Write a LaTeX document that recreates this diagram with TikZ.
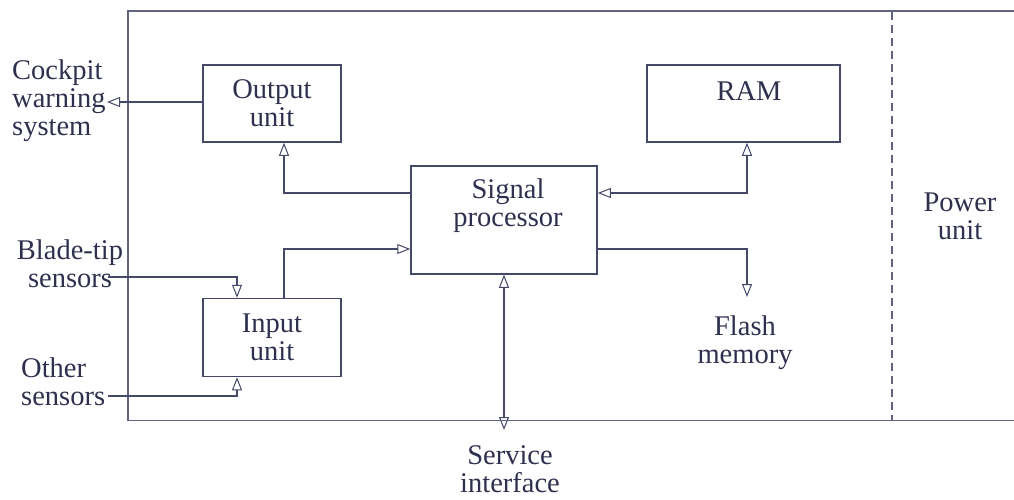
\documentclass[tikz,border=0pt]{standalone}
\usepackage{fontspec}
\setmainfont{Liberation Serif}
\usetikzlibrary{arrows.meta}
\definecolor{linec}{RGB}{70,72,104}
\definecolor{textc}{RGB}{46,48,78}
\begin{document}
\begin{tikzpicture}[x=1pt,y=-1pt,
  every node/.style={text=textc,font=\fontsize{28.5}{28}\selectfont},
  unitbox/.style={draw=linec,line width=1.5pt,inner sep=0pt,rectangle},
  lbl/.style={inner sep=0pt,align=center},
  conn/.style={draw=linec,line width=1.5pt},
  tip/.style={-{Triangle[open,length=13pt,width=10pt,line width=1pt]}},
  bothtip/.style={{Triangle[open,length=13pt,width=10pt,line width=1pt]}-{Triangle[open,length=13pt,width=10pt,line width=1pt]}}]
\useasboundingbox (0,0) rectangle (1014,500);
% outer frame
\draw[linec!85,line width=1.6pt] (1014,11) -- (128,11) -- (128,420.5) -- (1014,420.5);
\draw[linec!85,line width=1.3pt,dash pattern=on 8pt off 5pt] (892,12) -- (892,420);
% boxes
\node[unitbox,minimum width=138pt,minimum height=77pt,lbl] (out) at (272,103.5) {Output\\unit};
\node[unitbox,minimum width=193pt,minimum height=77pt] (ram) at (743.5,103.5) {};
\node[lbl] (ramtxt) at (749,91) {RAM};
\node[unitbox,minimum width=186pt,minimum height=108pt] (sp) at (504,220) {};
\node[lbl] (sptxt) at (508,206) {Signal\\processor};
\node[unitbox,minimum width=138pt,minimum height=78pt,lbl] (in) at (272,337.5) {Input\\unit};
% external labels
\node[lbl,align=left,anchor=west] (cock) at (12,101) {Cockpit\\warning\\system};
\node[lbl] (blade) at (70,264) {Blade-tip\\sensors};
\node[lbl,align=left,anchor=west] (other) at (21,382) {Other\\sensors};
\node[lbl] (flash) at (745,343) {Flash\\memory};
\node[lbl] (serv) at (510,469) {Service\\interface};
\node[lbl] (power) at (960,216) {Power\\unit};
% connector points
\coordinate (cockend) at (107,102);
\coordinate (bladestart) at (108,277);
\coordinate (otherstart) at (108,396);
\coordinate (flashend) at (747,297);
\coordinate (servend) at (504,430);
% connectors
\draw[conn,tip] (out.west |- cockend) -- (cockend);
\draw[conn,tip] (sp.west |- 0,193) -- (284,193) -- (284,142 |- out.south);
\draw[conn,tip] (284,0 |- in.north) -- (284,249) -- (sp.west |- 0,249);
\draw[conn,bothtip] (sp.east |- 0,193) -- (747,193) -- (747,0 |- ram.south);
\draw[conn,tip] (sp.east |- 0,249) -- (747,249) -- (flashend);
\draw[conn,bothtip] (504,0 |- sp.south) -- (servend);
\draw[conn,tip] (bladestart) -- (237,277) -- (237,0 |- in.north);
\draw[conn,tip] (otherstart) -- (237,396) -- (237,0 |- in.south);
\end{tikzpicture}
\end{document}
